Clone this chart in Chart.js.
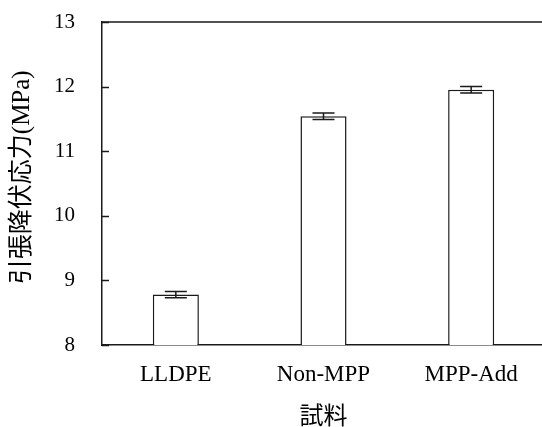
<!DOCTYPE html>
<html>
<head>
<meta charset="utf-8">
<script src="https://cdn.jsdelivr.net/npm/chart.js@4.4.1/dist/chart.umd.min.js"></script>
<style>
  html, body { margin: 0; padding: 0; background: #fff; overflow: hidden; }
  #wrap { width: 545px; height: 427px; }
</style>
</head>
<body>
<div id="wrap"><canvas id="chart" width="545" height="427"></canvas></div>
<script>
// データ
const categories = ['LLDPE', 'Non-MPP', 'MPP-Add'];
const yieldStress = [8.78, 11.54, 11.95];
const yieldStressErr = [0.05, 0.05, 0.05];
const yTicks = [8, 9, 10, 11, 12, 13];

const FONT = "'Liberation Serif', 'Noto Sans CJK JP', serif";
const LINE = '#1a1a1a';

// エラーバーと枠線
const decorPlugin = {
  id: 'decor',
  afterDatasetsDraw(chart) {
    const ctx = chart.ctx;
    const area = chart.chartArea;
    const y = chart.scales.y;
    ctx.save();
    ctx.strokeStyle = LINE;
    ctx.lineWidth = 1.5;

    // エラーバー
    const meta = chart.getDatasetMeta(0);
    meta.data.forEach((bar, i) => {
      const cx = bar.x;
      const hi = y.getPixelForValue(yieldStress[i] + yieldStressErr[i]);
      const lo = y.getPixelForValue(yieldStress[i] - yieldStressErr[i]);
      const half = 11;
      ctx.beginPath();
      ctx.moveTo(cx, hi); ctx.lineTo(cx, lo);
      ctx.moveTo(cx - half, hi); ctx.lineTo(cx + half, hi);
      ctx.moveTo(cx - half, lo); ctx.lineTo(cx + half, lo);
      ctx.stroke();
    });

    // 内向き目盛り
    yTicks.forEach(v => {
      const py = Math.round(y.getPixelForValue(v)) + 0.5;
      ctx.beginPath();
      ctx.moveTo(area.left, py);
      ctx.lineTo(area.left + 7, py);
      ctx.stroke();
    });

    // 上辺と右辺
    ctx.beginPath();
    ctx.moveTo(area.left, area.top);
    ctx.lineTo(area.right, area.top);
    ctx.lineTo(area.right, area.bottom);
    ctx.stroke();
    ctx.restore();
  }
};

new Chart(document.getElementById('chart'), {
  type: 'bar',
  data: {
    labels: categories,
    datasets: [{
      data: yieldStress,
      backgroundColor: '#ffffff',
      borderColor: LINE,
      borderWidth: 1.5,
      categoryPercentage: 1.0,
      barPercentage: 0.312
    }]
  },
  options: {
    responsive: false,
    devicePixelRatio: 1,
    animation: false,
    layout: { padding: { top: 22, right: 0, bottom: 0, left: 0 } },
    plugins: {
      legend: { display: false },
      tooltip: { enabled: false }
    },
    scales: {
      x: {
        grid: { display: false, drawTicks: false },
        border: { display: true, color: LINE, width: 1.5 },
        ticks: {
          color: '#000',
          font: { family: FONT, size: 23 },
          padding: 16
        },
        title: {
          display: true,
          text: '試料',
          color: '#000',
          font: { family: FONT, size: 24, lineHeight: 0.8 },
          padding: { top: 0, bottom: 0 }
        },
        afterFit(scale) { scale.height = 82; }
      },
      y: {
        min: 8,
        max: 13,
        afterBuildTicks(scale) {
          scale.ticks = yTicks.map(v => ({ value: v }));
        },
        grid: { display: false, drawTicks: false },
        border: { display: true, color: LINE, width: 1.5 },
        ticks: {
          color: '#000',
          font: { family: FONT, size: 21 },
          padding: 27
        },
        title: {
          display: true,
          text: '\u00a0\u00a0引張降伏応力(MPa)',
          color: '#000',
          font: { family: FONT, size: 25 },
          padding: { top: 7, bottom: 0 }
        },
        afterFit(scale) {
          scale.width = 102;
          scale.paddingTop = 0;
          scale.paddingBottom = 0;
        }
      }
    }
  },
  plugins: [decorPlugin]
});
</script>
</body>
</html>
